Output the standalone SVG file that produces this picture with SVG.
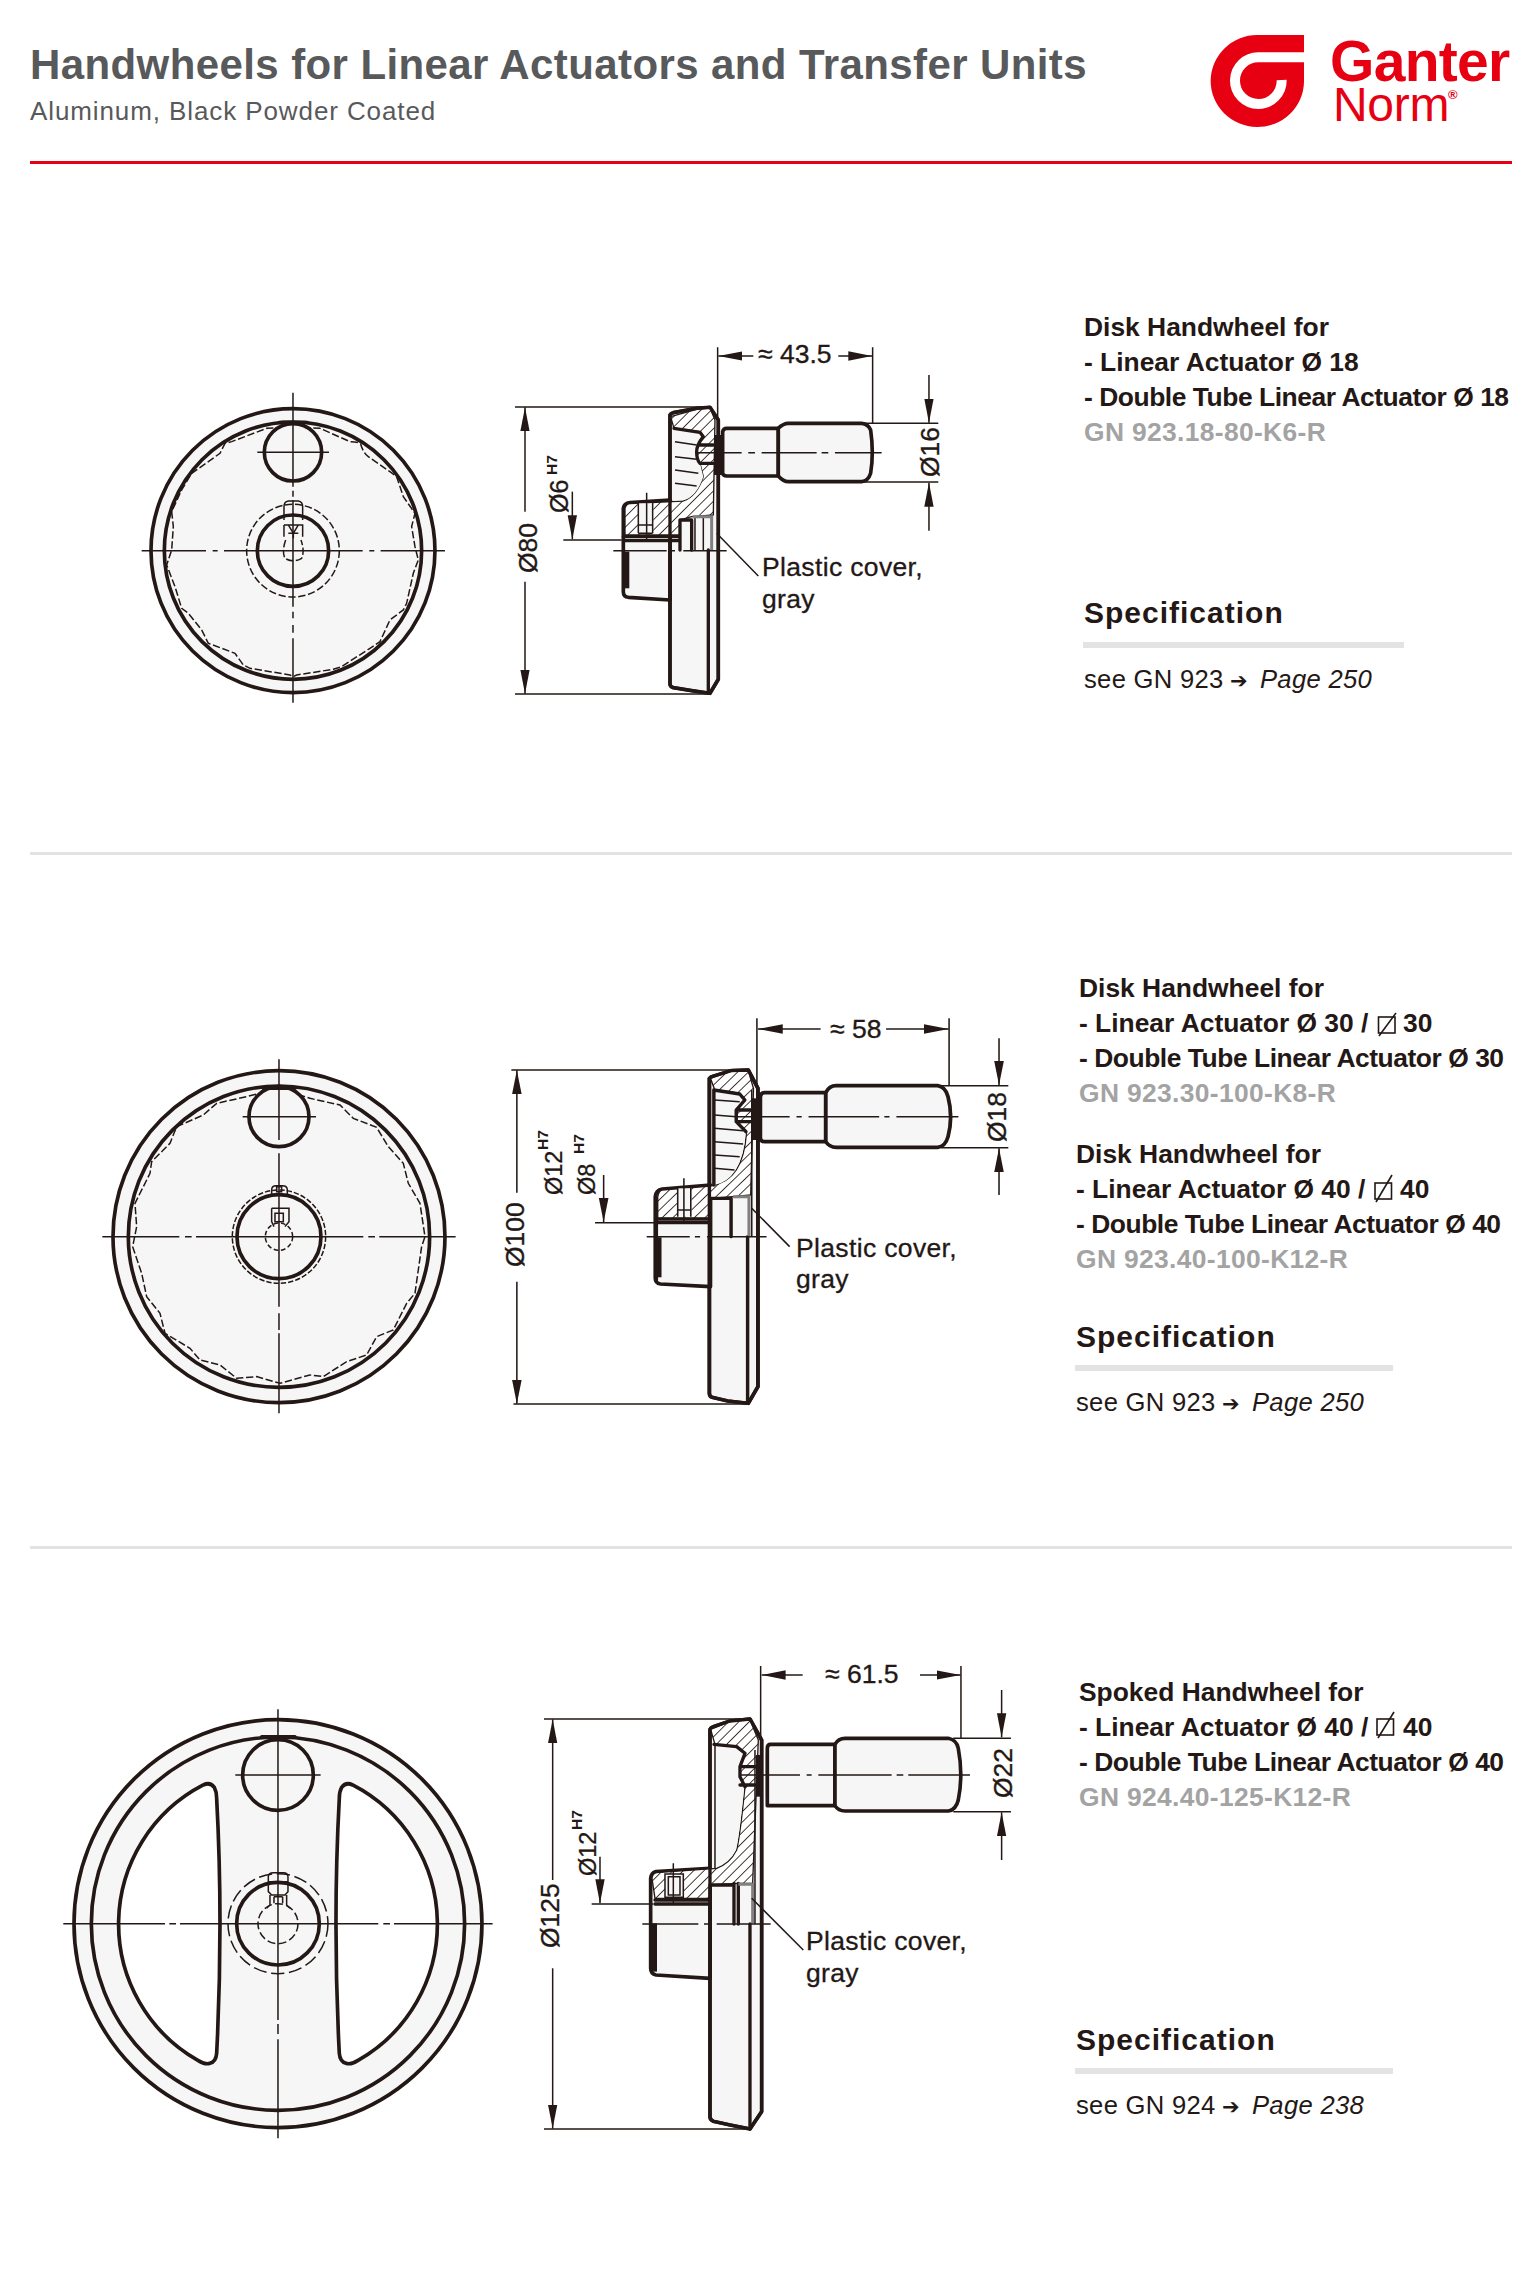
<svg xmlns="http://www.w3.org/2000/svg" width="1540" height="2271" viewBox="0 0 1540 2271">
<style>
text{font-family:"Liberation Sans",Arial,sans-serif;fill:#231815}
.b{font-weight:700;font-size:26.4px}
.bn{font-weight:700;font-size:26.4px;letter-spacing:-.45px}
.g{font-weight:700;font-size:26.4px;fill:#a3a3a3;letter-spacing:.35px}
.h{font-weight:700;font-size:30px;letter-spacing:1px}
.s{font-size:25.6px;letter-spacing:.3px}
.ar{font-family:"DejaVu Sans",sans-serif;font-weight:700;font-size:21px}
.it{font-style:italic;font-size:25.6px;letter-spacing:.3px}
.d{font-size:26.5px;stroke:#231815;stroke-width:.35px}
.l{font-size:26.5px;letter-spacing:.35px;stroke:#231815;stroke-width:.3px}
.m{font-size:23.5px;stroke:#231815;stroke-width:.3px}
.u{font-size:15.5px;font-weight:700}
.t{fill:none;stroke:#231815;stroke-width:10;stroke-linejoin:round;stroke-linecap:round}
.f{fill:#f6f6f6;stroke:#231815;stroke-width:11;stroke-linejoin:round}
.n{fill:none;stroke:#231815;stroke-width:4.5}
.w{fill:#fff;stroke:#231815;stroke-width:11;stroke-linejoin:round}
.dash{fill:none;stroke:#231815;stroke-width:4.5;stroke-dasharray:22 8}
.sec{fill:url(#hatch);stroke:#231815;stroke-width:4;stroke-linejoin:round}
.cov{fill:none;stroke:#808080;stroke-width:9}
.a{fill:none;stroke:#231815;stroke-width:4.5;marker-end:url(#arr)}
.bar{fill:#e3e3e3}
.sq{fill:none;stroke:#231815;stroke-width:1.6}
.hv{fill:none;stroke:#231815;stroke-width:18}
</style>
<defs>
<pattern id="hatch" width="22" height="22" patternUnits="userSpaceOnUse" patternTransform="rotate(45)">
<rect width="22" height="22" fill="#fff"/><line x1="0" y1="0" x2="0" y2="22" stroke="#231815" stroke-width="5"/>
</pattern>
<marker id="arr" markerUnits="userSpaceOnUse" markerWidth="72" markerHeight="30" viewBox="0 0 72 30" refX="72" refY="15" orient="auto">
<path d="M0,1 L72,15 L0,29 Z" fill="#231815"/>
</marker>
</defs>

<g id="header">
<text x="30" y="79" style="font-size:42px;font-weight:700;fill:#58595b;letter-spacing:.4px">Handwheels for Linear Actuators and Transfer Units</text>
<text x="30" y="120" style="font-size:26px;fill:#58595b;letter-spacing:.9px">Aluminum, Black Powder Coated</text>
<rect x="30" y="161" width="1482" height="3" fill="#e60012"/>
<rect x="30" y="852" width="1482" height="3" class="bar"/>
<rect x="30" y="1546" width="1482" height="3" class="bar"/>
</g>

<g id="logo">
<g transform="translate(1200,25) scale(.3333)">
<path d="M172,30 H312 V170 A140,138 0 1 1 172,30 Z" fill="#e60012"/>
<path d="M312,97 H178 A70,70 0 1 0 245,165" fill="none" stroke="#fff" stroke-width="30"/>
</g>
<text x="1330" y="81" style="font-size:57px;font-weight:700;fill:#e60012;letter-spacing:-.7px">Ganter</text>
<text x="1333" y="121" style="font-size:48px;fill:#e60012;letter-spacing:-.3px">Norm</text>
<text x="1448" y="99" style="font-size:13px;font-weight:700;fill:#e60012">®</text>
</g>

<g id="front-wheel-1" transform="translate(120,320) scale(.3333)">
<circle cx="519" cy="692" r="426" class="f"/>
<circle cx="519" cy="692" r="386" class="f"/>
<path class="dash" d="M520,322 L600,325 L690,365 Q715,365 722,372 Q730,400 745,410 L810,455 L830,470 L850,530 L885,580 L875,620 L885,680 L895,720 L880,760 L860,850 L850,870 L810,900 L780,965 L750,985 L665,1040 L640,1048 L530,1065 L520,1070 L510,1065 L390,1045 L370,1035 L345,1000 L265,970 L245,930 L205,880 L185,865 L165,800 L140,735 L155,690 L160,620 L155,575 L185,510 L215,460 L300,400 L315,370 L335,365 L440,325 Z"/>
<circle cx="519" cy="397" r="86" class="f"/>
<path class="t" d="M478,307 H562"/>
<circle cx="519" cy="692" r="139" class="dash"/>
<circle cx="519" cy="692" r="107" class="f"/>
<path class="n" d="M492,600 V560 Q492,545 505,543 H535 Q548,545 548,560 V600 M492,615 H548 V650 M492,615 V650 M505,615 L520,640 L535,615 M505,640 H535 M520,640 V655"/>
<path class="dash" d="M497,660 Q485,695 495,715 Q520,730 545,715 Q555,695 543,660"/>
<path class="n" d="M65,692 H258 M278,692 H293 M312,692 H728 M748,692 H763 M782,692 H975 M519,218 V500 M519,512 V530 M519,540 V860 M519,875 V895 M519,915 V938 M519,955 V1148 M412,397 H627"/>
</g>

<g id="side-wheel-1" transform="translate(500,320) scale(.3333)">
<path class="f" d="M510,285 Q512,280 520,278 L590,265 L630,262 L655,300 V1078 L630,1120 L575,1112 L520,1103 Q510,1100 510,1092 Z"/>
<path class="f" d="M370,565 Q372,550 390,548 L510,540 V840 L385,832 Q370,830 370,815 Z"/>
<path class="sec" d="M512,290 L590,268 L630,264 L645,300 L640,585 L575,590 L540,600 V645 L375,645 L375,565 Q378,552 390,551 L550,543 Q590,530 610,470 L600,430 Q590,420 590,395 Q590,375 610,350 L600,335 L522,325 Z"/>
<path d="M520,327 L600,337 L610,350 Q590,375 590,395 Q590,420 600,430 L610,470 Q590,530 550,541 L520,543 Z" fill="#f6f6f6"/>
<path class="t" d="M510,285 Q512,280 520,278 L590,265 L630,262 L655,300 V1078 L630,1120 L575,1112 L520,1103 Q510,1100 510,1092 Z"/>
<path class="n" d="M525,365 L590,375 M525,410 L590,418 M525,450 L595,460 M525,490 L590,498"/>
<path class="t" d="M522,325 L600,337 L610,350 Q590,375 590,395 Q590,420 600,430 M600,375 H640 M600,430 H640"/>
<rect x="642" y="345" width="24" height="120" fill="#231815"/>
<rect x="415" y="550" width="45" height="92" fill="#f6f6f6"/>
<path class="n" d="M415,548 V640 M458,548 V640 M415,615 H458 M415,640 H458"/>
<path class="t" d="M370,650 H540 M370,662 H540 M540,690 V600 H575 V690 M625,690 V1120 M510,690 V840"/>
<path class="hv" d="M379,695 V805"/>
<path class="n" d="M585,590 V690 M610,590 V690 M440,518 V660"/>
<path class="cov" d="M578,590 H635 V690"/>
<path class="f" d="M668,350 V335 Q670,325 680,325 H835 V468 H680 Q670,468 668,460 Z"/>
<path class="f" d="M835,325 Q850,310 865,310 H1085 Q1105,312 1112,330 Q1122,398 1112,460 Q1105,483 1085,485 H865 Q850,485 835,468 Z"/>
<path class="n" d="M585,398 H725 M745,398 H765 M785,398 H950 M965,398 H985 M1005,398 H1145 M340,692 H500 M515,692 H525 M550,692 H680"/>
</g>

<g id="front-wheel-2" transform="translate(90,1040) scale(.3333)">
<circle cx="567" cy="590" r="498" class="f"/>
<circle cx="567" cy="590" r="452" class="f"/>
<path class="dash" d="M567,145 L660,175 L750,195 L790,235 L860,262 L895,320 L940,370 L955,430 L990,490 L1005,590 L995,620 L975,760 L950,790 L910,870 L860,890 L830,945 L770,965 L700,1010 L660,1005 L570,1030 L500,1010 L440,1015 L390,975 L330,960 L300,925 L225,880 L210,820 L170,770 L155,700 L128,620 L140,560 L135,490 L180,400 L185,365 L240,310 L260,260 L340,225 L380,190 L470,170 Z"/>
<circle cx="567" cy="230" r="90" class="f"/>
<path class="t" d="M520,145 H615"/>
<circle cx="567" cy="590" r="140" class="dash" style="stroke-dasharray:16 6"/>
<circle cx="567" cy="590" r="126" class="f"/>
<circle cx="567" cy="590" r="41" class="dash" style="stroke-dasharray:14 8"/>
<path class="n" d="M545,470 V450 Q545,437 558,437 H578 Q592,437 592,450 V470 M545,505 H597 V545 L585,560 M545,505 V545 L552,560 M555,520 H580 V545 H555 Z M560,440 H575 V455 H560 Z"/>
<path class="n" d="M37,590 H268 M285,590 H305 M318,590 H820 M835,590 H855 M868,590 H1097 M567,58 V300 M567,340 V800 M567,820 V870 M567,880 V1120 M458,230 H678"/>
</g>

<g id="side-wheel-2" transform="translate(490,1000) scale(.3444,.3333)">
<path class="f" d="M637,235 Q640,230 650,228 L700,212 L750,210 L778,265 V1160 L750,1210 L690,1203 L645,1192 Q637,1190 637,1180 Z"/>
<path class="f" d="M480,590 Q482,570 500,567 L640,555 V860 L495,852 Q480,850 480,835 Z"/>
<path class="sec" d="M640,235 L700,214 L750,212 L765,265 L757,585 L705,590 L640,595 V655 L487,655 L487,590 Q490,572 500,570 L640,558 Q690,550 715,510 Q740,470 745,395 L715,365 V330 L740,300 L725,280 L652,268 Z"/>
<path d="M652,270 L725,282 L738,300 L715,330 V365 L743,395 Q738,470 713,510 Q690,548 652,555 Z" fill="#f6f6f6"/>
<path class="t" d="M637,235 Q640,230 650,228 L700,212 L750,210 L778,265 V1160 L750,1210 L690,1203 L645,1192 Q637,1190 637,1180 Z"/>
<path class="n" d="M652,300 L725,305 M652,345 L715,350 M652,385 L735,392 M652,425 L735,432 M652,465 L725,470 M652,505 L710,510"/>
<path class="t" d="M650,270 L725,282 L740,300 L715,330 V365 L743,395 M650,270 V555 M715,330 H760 M715,365 H760"/>
<rect x="758" y="295" width="24" height="125" fill="#231815"/>
<rect x="545" y="565" width="40" height="85" fill="#f6f6f6"/>
<path class="n" d="M545,562 V650 M583,562 V650 M545,630 H583 M563,535 V665"/>
<path class="t" d="M487,657 H640 M487,668 H640 M640,710 V595 H700 V710 M748,710 V1210 M637,710 V860 M483,660 V840"/>
<path class="hv" d="M489,712 V832"/>
<path class="cov" d="M706,590 H752 V710"/>
<path class="n" d="M760,270 V710"/>
<path class="f" d="M785,290 Q787,278 797,278 H975 V425 H797 Q787,425 785,415 Z"/>
<path class="f" d="M975,278 Q985,257 1005,257 H1300 Q1322,260 1330,290 Q1345,350 1330,410 Q1322,440 1300,442 H1005 Q985,442 975,425 Z"/>
<path class="n" d="M710,350 H870 M890,350 H905 M925,350 H1130 M1145,350 H1160 M1180,350 H1360 M455,710 H580 M595,710 H610 M630,710 H803"/>
</g>

<g id="front-wheel-3" transform="translate(50,1700) scale(.3333)">
<circle cx="684" cy="671" r="612" class="f"/>
<circle cx="684" cy="671" r="560" class="f"/>
<path class="w" d="M460,255 Q480,245 493,262 Q500,275 500,295 Q510,480 510,670 Q510,870 500,1060 Q498,1085 480,1090 Q465,1095 445,1082 A470,470 0 0 1 460,255 Z"/>
<path class="w" d="M908,255 Q888,245 875,262 Q868,275 868,295 Q858,480 858,670 Q858,870 868,1060 Q870,1085 888,1090 Q903,1095 923,1082 A470,470 0 0 0 908,255 Z"/>
<circle cx="684" cy="225" r="106" class="f"/>
<path class="t" d="M635,110 H735"/>
<circle cx="684" cy="671" r="150" class="dash" style="stroke-dasharray:40 14"/>
<circle cx="684" cy="671" r="124" class="f"/>
<circle cx="684" cy="671" r="60" class="dash" style="stroke-dasharray:24 10"/>
<path class="n" d="M655,530 Q655,518 670,518 H700 Q714,518 714,530 V545 H655 Z M655,545 V575 L665,585 H705 L714,575 V545 M660,585 V615 L650,625 M710,585 V615 L720,625 M672,590 V610 M698,590 V610 M672,590 H698"/>
<path class="n" d="M40,671 H345 M358,671 H378 M390,671 H985 M1000,671 H1020 M1032,671 H1328 M684,28 V960 M684,972 V1002 M684,1018 V1315 M556,225 H812"/>
</g>

<g id="side-wheel-3" transform="translate(530,1650) scale(.3333)">
<path class="f" d="M540,238 Q542,232 550,230 L600,213 L660,207 L695,270 V1385 L660,1437 L600,1425 L550,1414 Q540,1410 540,1400 Z"/>
<path class="f" d="M362,685 Q364,668 378,665 L540,655 V985 L378,975 Q362,972 362,955 Z"/>
<path class="sec" d="M542,238 L600,215 L660,209 L685,270 L668,700 L625,700 L540,705 V745 L375,745 L366,685 Q368,670 380,668 L560,655 Q600,640 620,600 Q630,560 645,410 L630,380 V350 L645,310 L620,290 L555,283 Z"/>
<path d="M555,285 L620,292 L643,310 L628,350 V380 L643,410 Q628,560 618,600 Q600,638 556,653 Z" fill="#f6f6f6"/>
<path class="t" d="M540,238 Q542,232 550,230 L600,213 L660,207 L695,270 V1385 L660,1437 L600,1425 L550,1414 Q540,1410 540,1400 Z"/>
<path class="n" d="M555,285 V655"/>
<path class="t" d="M552,283 L620,290 L645,310 L630,350 V380 L645,410 M630,350 H678 M630,405 H678"/>
<rect x="678" y="315" width="20" height="125" fill="#231815"/>
<rect x="405" y="672" width="55" height="70" fill="#f6f6f6"/>
<path class="n" d="M405,672 H460 V742 H405 Z M415,680 H450 V735 H415 Z M430,640 V760"/>
<path class="t" d="M375,750 H540 M375,762 H540 M540,822 V705 H612 V822 M612,700 V822 M625,700 V822 M660,822 V1437 M540,822 V985"/>
<path class="hv" d="M372,820 V965"/>
<path class="cov" d="M625,703 H668 V820"/>
<path class="n" d="M675,300 V822 M710,310 V445"/>
<path class="f" d="M712,295 Q712,283 722,283 H915 V467 H712 Z"/>
<path class="f" d="M915,283 Q925,265 945,265 H1255 Q1280,270 1285,295 Q1300,375 1285,450 Q1278,480 1255,483 H945 Q925,483 915,467 Z"/>
<path class="n" d="M630,375 H810 M830,375 H845 M865,375 H1085 M1100,375 H1120 M1135,375 H1320 M337,822 H505 M522,822 H540 M560,822 H722"/>
</g>

<g id="connectors">
<g transform="translate(500,320) scale(.3333)" id="dims-1">
<path class="n" d="M45,261 H630 M45,1122 H630 M653,82 V300 M1118,82 V310 M1085,310 H1315 M1085,486 H1315 M190,660 H365"/>
<path class="a" d="M75,575 V262"/><path class="a" d="M75,785 V1121"/>
<path class="a" d="M760,108 H655"/><path class="a" d="M1015,108 H1117"/>
<path class="a" d="M1287,165 V308"/><path class="a" d="M1287,632 V488"/>
<path class="a" d="M217,515 V658"/>
<path class="n" d="M650,640 L775,768"/>
</g>
<g transform="translate(490,1000) scale(.3444,.3333)" id="dims-2">
<path class="n" d="M62,210 H750 M68,1212 H750 M775,55 V260 M1333,55 V257 M1310,257 H1505 M1310,443 H1505 M305,668 H487"/>
<path class="a" d="M78,578 V211"/><path class="a" d="M78,845 V1211"/>
<path class="a" d="M960,87 H778"/><path class="a" d="M1150,87 H1332"/>
<path class="a" d="M1478,115 V255"/><path class="a" d="M1478,585 V445"/>
<path class="a" d="M330,525 V666"/>
<path class="n" d="M760,625 L870,740"/>
</g>
<g transform="translate(530,1650) scale(.3333)" id="dims-3">
<path class="n" d="M42,207 H660 M42,1437 H660 M692,48 V270 M1293,48 V265 M1270,265 H1443 M1270,485 H1443 M185,762 H370"/>
<path class="a" d="M68,690 V208"/><path class="a" d="M68,955 V1436"/>
<path class="a" d="M818,75 H695"/><path class="a" d="M1170,75 H1292"/>
<path class="a" d="M1415,120 V262"/><path class="a" d="M1415,630 V487"/>
<path class="a" d="M210,620 V760"/>
<path class="n" d="M665,745 L820,900"/>
</g>
</g>

<g id="labels-1">
<text class="d" transform="translate(536.7,573) rotate(-90)">Ø80</text>
<text class="m" transform="translate(568,513) rotate(-90)" style="font-size:25px">Ø6</text>
<text class="u" transform="translate(556.7,475) rotate(-90)">H7</text>
<text class="d" x="758" y="363">≈ 43.5</text>
<text class="d" transform="translate(939,477) rotate(-90)">Ø16</text>
<text class="l" x="762" y="576">Plastic cover,</text>
<text class="l" x="762" y="608">gray</text>
</g>
<g id="labels-2">
<text class="d" transform="translate(523.7,1267) rotate(-90)">Ø100</text>
<text class="m" transform="translate(561.6,1195) rotate(-90)">Ø12</text>
<text class="u" transform="translate(547.5,1150) rotate(-90)">H7</text>
<text class="m" transform="translate(595,1195) rotate(-90)">Ø8</text>
<text class="u" transform="translate(583.7,1154) rotate(-90)">H7</text>
<text class="d" x="830" y="1038">≈ 58</text>
<text class="d" transform="translate(1005.5,1142) rotate(-90)">Ø18</text>
<text class="l" x="796" y="1257">Plastic cover,</text>
<text class="l" x="796" y="1288">gray</text>
</g>
<g id="labels-3">
<text class="d" transform="translate(559.3,1948) rotate(-90)">Ø125</text>
<text class="m" transform="translate(596,1876) rotate(-90)">Ø12</text>
<text class="u" transform="translate(581.7,1830) rotate(-90)">H7</text>
<text class="d" x="825" y="1683">≈ 61.5</text>
<text class="d" transform="translate(1011.7,1798) rotate(-90)">Ø22</text>
<text class="l" x="806" y="1950">Plastic cover,</text>
<text class="l" x="806" y="1982">gray</text>
</g>

<g id="info-1">
<text class="b" x="1084" y="336">Disk Handwheel for</text>
<text class="b" x="1084" y="371">- Linear Actuator Ø 18</text>
<text class="bn" x="1084" y="406">- Double Tube Linear Actuator Ø 18</text>
<text class="g" x="1084" y="441">GN 923.18-80-K6-R</text>
<text class="h" x="1084" y="623">Specification</text>
<rect x="1083" y="642" width="321" height="6" class="bar"/>
<text class="s" x="1084" y="688">see GN 923</text>
<text class="ar" x="1230" y="688">➔</text>
<text class="it" x="1260" y="688">Page 250</text>
</g>
<g id="info-2">
<text class="b" x="1079" y="997">Disk Handwheel for</text>
<text class="b" x="1079" y="1032">- Linear Actuator Ø 30 /</text>
<rect x="1378.5" y="1017" width="16.5" height="16" class="sq"/><path class="sq" d="M1379,1036 L1396,1013"/>
<text class="b" x="1403" y="1032">30</text>
<text class="bn" x="1079" y="1067">- Double Tube Linear Actuator Ø 30</text>
<text class="g" x="1079" y="1102">GN 923.30-100-K8-R</text>
<text class="b" x="1076" y="1163">Disk Handwheel for</text>
<text class="b" x="1076" y="1198">- Linear Actuator Ø 40 /</text>
<rect x="1375" y="1183" width="16.5" height="16" class="sq"/><path class="sq" d="M1376,1202 L1392,1175"/>
<text class="b" x="1400" y="1198">40</text>
<text class="bn" x="1076" y="1233">- Double Tube Linear Actuator Ø 40</text>
<text class="g" x="1076" y="1268">GN 923.40-100-K12-R</text>
<text class="h" x="1076" y="1347">Specification</text>
<rect x="1075" y="1365" width="318" height="6" class="bar"/>
<text class="s" x="1076" y="1411">see GN 923</text>
<text class="ar" x="1222" y="1411">➔</text>
<text class="it" x="1252" y="1411">Page 250</text>
</g>
<g id="info-3">
<text class="b" x="1079" y="1701">Spoked Handwheel for</text>
<text class="b" x="1079" y="1736">- Linear Actuator Ø 40 /</text>
<rect x="1377" y="1719" width="16.5" height="16" class="sq"/><path class="sq" d="M1378,1738 L1394,1712"/>
<text class="b" x="1403" y="1736">40</text>
<text class="bn" x="1079" y="1771">- Double Tube Linear Actuator Ø 40</text>
<text class="g" x="1079" y="1806">GN 924.40-125-K12-R</text>
<text class="h" x="1076" y="2050">Specification</text>
<rect x="1075" y="2068" width="318" height="6" class="bar"/>
<text class="s" x="1076" y="2114">see GN 924</text>
<text class="ar" x="1222" y="2114">➔</text>
<text class="it" x="1252" y="2114">Page 238</text>
</g>
</svg>
